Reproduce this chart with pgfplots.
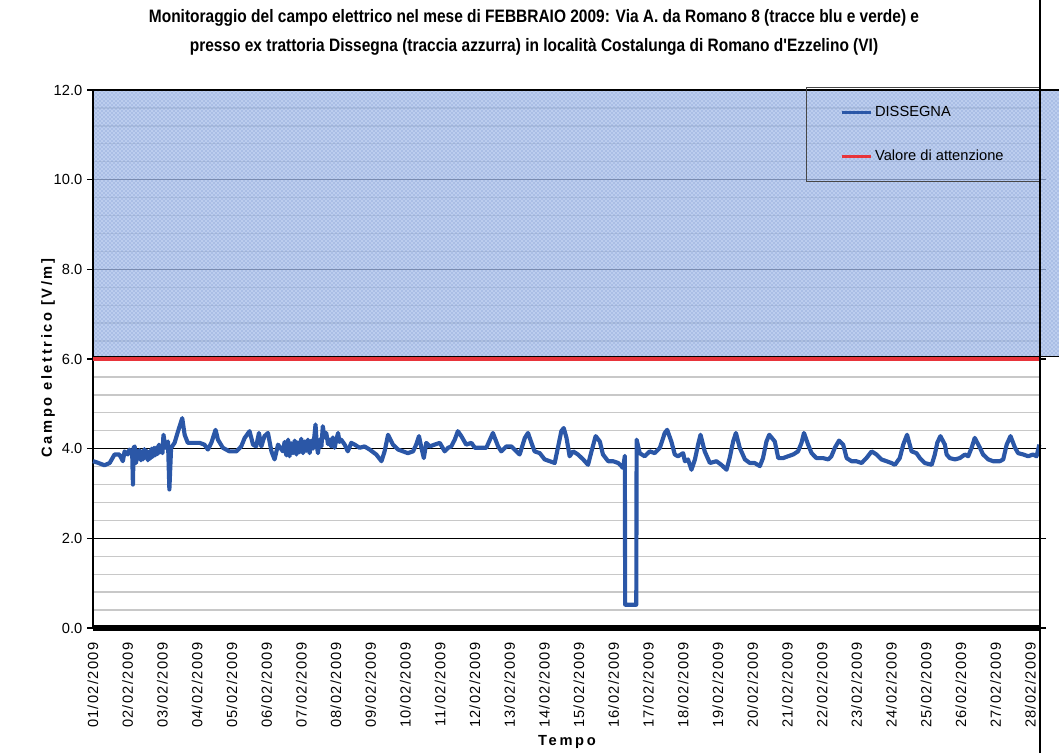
\documentclass[border=0pt]{standalone}
\usepackage{fontspec}
\setmainfont{Liberation Sans}
\newfontfamily\titlefont{Liberation Sans}[FakeStretch=0.86]
\newfontfamily\spacedfont{Liberation Sans}[LetterSpace=9]
\newfontfamily\widefont{Liberation Sans}[LetterSpace=18]
\usepackage{pgfplots}
\pgfplotsset{compat=1.18}
\usetikzlibrary{patterns}

\definecolor{linea}{RGB}{43,87,167}
\definecolor{soglia}{RGB}{232,52,58}
\definecolor{tratteggio}{RGB}{90,120,190}
\definecolor{fondo}{RGB}{165,188,232}
\definecolor{minorgrid}{RGB}{200,200,200}
\definecolor{bordolegenda}{RGB}{70,70,70}

\begin{document}
\begin{tikzpicture}[x=1pt,y=1pt]
\path[use as bounding box] (0,0) rectangle (794.25,564.75);
\begin{axis}[
    at={(69.75pt,93.75pt)}, anchor=south west,
    scale only axis, width=710.25pt, height=403.5pt,
    xmin=0, xmax=27.28, ymin=0, ymax=12,
    clip=false,
    xtick={0,...,27},
    xticklabels={01/02/2009,02/02/2009,03/02/2009,04/02/2009,05/02/2009,06/02/2009,07/02/2009,08/02/2009,09/02/2009,10/02/2009,11/02/2009,12/02/2009,13/02/2009,14/02/2009,15/02/2009,16/02/2009,17/02/2009,18/02/2009,19/02/2009,20/02/2009,21/02/2009,22/02/2009,23/02/2009,24/02/2009,25/02/2009,26/02/2009,27/02/2009,28/02/2009},
    xticklabel style={yshift=-3pt, rotate=90, anchor=east, font=\spacedfont\fontsize{11}{13}\selectfont},
    major x tick style={draw=none},
    ytick={0,2,...,12}, minor y tick num=4,
    ymajorgrids, yminorgrids,
    major grid style={black, line width=0.6pt},
    minor grid style={minorgrid, line width=1pt},
    minor y tick style={draw=none},
    major y tick style={black, line width=0.8pt},
    tick align=outside, major tick length=4.5pt,
    yticklabel style={font=\fontsize{11}{13}\selectfont,
      /pgf/number format/.cd, fixed, fixed zerofill, precision=1, assume math mode=true},
    axis line style={black, line width=1.2pt},
    legend cell align=left,
    legend style={at={(1,1)}, anchor=north east, yshift=2.25pt,
      draw=bordolegenda, line width=0.6pt, fill=none,
      font=\fontsize{11}{13}\selectfont,
      inner xsep=25pt, inner ysep=12pt, row sep=20pt},
    legend image code/.code={\draw[#1, line width=2.2pt] (0pt,0pt) -- (22pt,0pt);},
  ]
  % zona sopra il valore di attenzione
  \addplot[forget plot, draw=black, line width=1pt, fill=fondo, fill opacity=0.75,
    postaction={pattern=crosshatch dots, pattern color=tratteggio}]
    coordinates {(0,6.06)(27.9,6.06)(27.9,12)(0,12)(0,6.06)};

  % DISSEGNA
  \addplot[linea, line width=3.1pt, line join=round] coordinates {
    (0.00,3.72)(0.09,3.70)(0.33,3.63)(0.48,3.68)(0.62,3.87)(0.76,3.87)(0.86,3.72)(0.91,3.94)
    (1.00,3.87)(1.05,3.98)(1.13,3.87)(1.15,3.20)(1.17,4.02)(1.20,4.05)
    (1.24,3.68)(1.28,3.95)(1.31,3.78)(1.34,3.97)(1.38,3.74)(1.41,3.92)(1.44,3.76)(1.48,3.99)
    (1.51,3.80)(1.55,3.95)(1.58,3.74)(1.62,3.93)(1.65,3.78)(1.69,4.00)(1.72,3.82)(1.76,4.02)
    (1.79,3.85)(1.83,4.03)(1.86,3.88)(1.90,4.09)(1.93,3.92)(1.96,4.05)(2.00,3.90)(2.03,4.31)
    (2.09,4.02)(2.16,4.16)(2.20,3.09)(2.25,4.02)(2.35,4.13)(2.45,4.39)(2.57,4.68)(2.64,4.31)
    (2.73,4.13)(2.88,4.13)(3.07,4.13)(3.21,4.09)(3.31,3.98)(3.41,4.13)(3.53,4.42)(3.60,4.20)
    (3.74,4.02)(3.93,3.94)(4.13,3.94)(4.27,4.05)(4.37,4.24)(4.51,4.39)(4.61,4.09)(4.70,4.05)
    (4.78,4.35)(4.85,4.05)(4.94,4.28)(5.04,4.35)(5.14,3.94)(5.23,3.76)(5.33,4.09)
    (5.47,3.94)(5.52,4.15)(5.57,3.85)(5.62,4.20)(5.66,3.83)(5.71,4.12)(5.76,3.90)(5.81,4.18)
    (5.86,3.87)(5.90,4.14)(5.95,3.92)(6.00,4.22)(6.05,3.90)(6.10,4.16)(6.14,3.95)(6.19,4.20)
    (6.24,3.90)(6.29,4.18)(6.34,4.00)(6.38,4.30)(6.41,4.54)(6.45,4.05)(6.48,3.90)(6.53,4.20)
    (6.58,4.05)(6.62,4.50)(6.67,4.25)(6.72,4.35)(6.77,4.10)(6.82,4.20)(6.86,4.05)(6.91,4.25)
    (6.96,4.02)(7.01,4.20)(7.06,4.35)(7.10,4.15)(7.15,4.20)(7.25,4.09)(7.34,3.94)(7.44,4.13)
    (7.54,4.09)(7.68,4.02)(7.82,4.05)(7.97,3.98)(8.16,3.87)(8.31,3.72)(8.40,3.94)(8.50,4.31)
    (8.64,4.09)(8.79,3.98)(8.93,3.94)(9.07,3.90)(9.22,3.94)(9.31,4.09)(9.39,4.28)(9.46,4.02)
    (9.53,3.79)(9.60,4.13)(9.70,4.05)(9.84,4.09)(9.99,4.13)(10.13,3.94)(10.23,4.02)(10.32,4.05)
    (10.42,4.20)(10.51,4.39)(10.61,4.28)(10.75,4.09)(10.90,4.13)(11.00,4.02)
    (11.14,4.02)(11.33,4.02)(11.52,4.35)(11.67,4.05)(11.76,3.94)(11.91,4.05)(12.05,4.05)(12.20,3.94)
    (12.29,3.87)(12.44,4.24)(12.53,4.35)(12.63,4.13)(12.72,3.94)(12.87,3.90)(13.01,3.76)(13.16,3.72)
    (13.30,3.68)(13.40,4.05)(13.49,4.39)(13.56,4.46)(13.64,4.24)(13.73,3.83)(13.83,3.94)(13.97,3.87)
    (14.12,3.76)(14.26,3.64)(14.36,3.94)(14.48,4.28)(14.60,4.16)(14.69,3.87)(14.84,3.72)(14.98,3.72)
    (15.13,3.68)(15.27,3.57)(15.32,3.84)(15.33,0.52)(15.65,0.52)(15.66,4.20)(15.75,3.90)(15.89,3.83)
    (16.04,3.94)(16.18,3.90)(16.33,4.02)(16.47,4.35)
    (16.54,4.42)(16.66,4.16)(16.76,3.87)(16.85,3.83)(17.00,3.90)(17.05,3.72)(17.14,3.76)(17.24,3.53)
    (17.34,3.76)(17.43,4.09)(17.50,4.31)(17.62,3.94)(17.77,3.68)(17.96,3.72)(18.10,3.64)(18.25,3.53)
    (18.34,3.79)(18.44,4.16)(18.52,4.35)(18.63,4.02)(18.78,3.76)(18.92,3.68)(19.06,3.68)(19.21,3.61)
    (19.30,3.79)(19.40,4.16)(19.48,4.31)(19.64,4.16)(19.74,3.79)(19.88,3.79)(20.02,3.83)(20.17,3.87)
    (20.31,3.94)(20.41,4.13)(20.48,4.35)(20.60,4.09)(20.70,3.90)(20.84,3.79)(21.03,3.79)(21.18,3.76)
    (21.27,3.83)(21.37,4.02)(21.49,4.18)(21.61,4.09)(21.71,3.79)(21.85,3.72)(21.95,3.72)
    (21.99,3.72)(22.14,3.68)(22.28,3.79)(22.43,3.94)(22.57,3.87)(22.71,3.76)(22.86,3.72)(23.00,3.68)
    (23.10,3.64)(23.24,3.79)(23.34,4.09)(23.45,4.31)(23.58,3.94)(23.72,3.90)(23.82,3.79)(23.96,3.68)
    (24.16,3.64)(24.25,3.87)(24.32,4.13)(24.41,4.28)(24.54,4.09)(24.59,3.87)(24.68,3.79)(24.83,3.76)
    (24.97,3.79)(25.12,3.87)(25.21,3.83)(25.31,4.02)(25.40,4.24)(25.55,4.02)(25.64,3.87)(25.79,3.76)
    (25.93,3.72)(26.12,3.72)(26.22,3.76)(26.32,4.09)(26.43,4.28)(26.56,4.02)(26.65,3.90)(26.80,3.87)
    (26.94,3.83)(27.08,3.87)(27.18,3.83)(27.26,4.09)
  };
  \addlegendentry{DISSEGNA}

  \addplot[soglia, line width=3pt] coordinates {(0,6)(27.28,6)};
  \addlegendentry{Valore di attenzione}

  \draw[black, line width=4.5pt] (rel axis cs:0,0) -- (rel axis cs:1,0);
\end{axis}

\draw[black, line width=1.5pt] (780,0) -- (780,564.75);

\node[font=\titlefont\bfseries\fontsize{13.5}{21.75}\selectfont, align=center]
  at (400.5,540.4) {Monitoraggio del campo elettrico nel mese di FEBBRAIO 2009: Via A. da Romano 8 (tracce blu e verde) e\\
  presso ex trattoria Dissegna (traccia azzurra) in località Costalunga di Romano d'Ezzelino (VI)};

\node[rotate=90, font=\widefont\bfseries\fontsize{11}{13}\selectfont] at (36,296.25) {Campo elettrico [V/m]};
\node[font=\widefont\bfseries\fontsize{11}{13}\selectfont] at (425.25,8.25) {Tempo};
\end{tikzpicture}
\end{document}
